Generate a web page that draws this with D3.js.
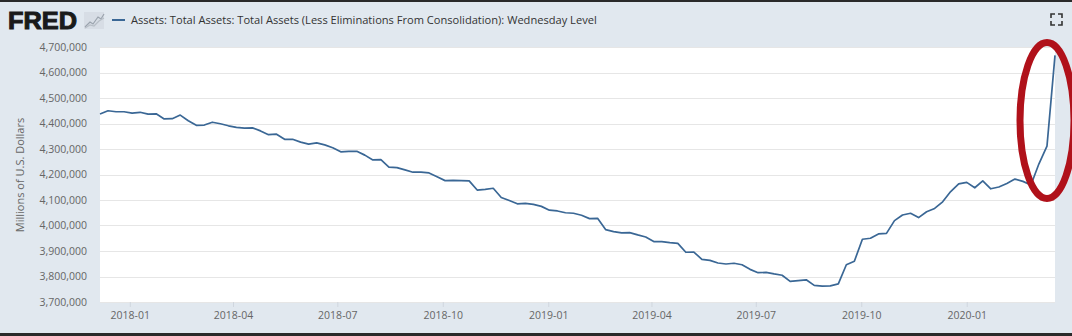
<!DOCTYPE html>
<html>
<head>
<meta charset="utf-8">
<script src="https://cdn.jsdelivr.net/npm/d3@7"></script>
<style>
  html, body { margin: 0; padding: 0; background: #e1e8ef; }
  svg { display: block; }
  text { font-family: "Open Sans", "DejaVu Sans", sans-serif; }
</style>
</head>
<body>
<svg id="chart" width="1072" height="336"></svg>
<script>
// ---- data (millions of U.S. dollars, weekly Wednesday level) ----
const startDate = "2017-12-06";
const endDate = "2020-03-18";
const seriesName = "Assets: Total Assets: Total Assets (Less Eliminations From Consolidation): Wednesday Level";
const values = [
  4437000, 4450000, 4446000, 4446000, 4441000, 4444000, 4437000, 4438000, 4418000, 4419000,
  4433000, 4411000, 4393000, 4394000, 4405000, 4399000, 4391000, 4385000, 4382000, 4383000,
  4371000, 4356000, 4358000, 4338000, 4338000, 4327000, 4319000, 4324000, 4316000, 4305000,
  4289000, 4291000, 4291000, 4276000, 4257000, 4258000, 4229000, 4227000, 4218000, 4209000,
  4209000, 4206000, 4191000, 4176000, 4177000, 4176000, 4175000, 4139000, 4142000, 4146000,
  4110000, 4098000, 4085000, 4087000, 4083000, 4075000, 4060000, 4057000, 4050000, 4048000,
  4040000, 4027000, 4028000, 3984000, 3976000, 3971000, 3972000, 3963000, 3955000, 3937000,
  3937000, 3933000, 3930000, 3895000, 3896000, 3867000, 3863000, 3853000, 3849000, 3852000,
  3846000, 3828000, 3815000, 3816000, 3810000, 3805000, 3781000, 3784000, 3787000, 3765000,
  3762000, 3763000, 3771000, 3846000, 3860000, 3946000, 3950000, 3967000, 3969000, 4019000,
  4041000, 4048000, 4031000, 4054000, 4067000, 4093000, 4133000, 4163000, 4169000, 4148000,
  4175000, 4144000, 4151000, 4165000, 4182000, 4173000, 4159000, 4242000, 4311000, 4667000
];
const yTicks = [3700000, 3800000, 3900000, 4000000, 4100000, 4200000, 4300000, 4400000, 4500000, 4600000, 4700000];
const xTickLabels = ["2018-01", "2018-04", "2018-07", "2018-10", "2019-01", "2019-04", "2019-07", "2019-10", "2020-01"];
const yTitle = "Millions of U.S. Dollars";

// ---- build ----
const parse = d3.timeParse("%Y-%m-%d");
const parseMonth = d3.timeParse("%Y-%m");
const t0 = parse(startDate);
const dates = values.map((v, i) => d3.timeDay.offset(t0, i * 7));
const data = values.map((v, i) => ({ date: dates[i], value: v }));

const svg = d3.select("#chart");
const plot = { left: 100, right: 1055, top: 47, bottom: 302 };

const x = d3.scaleTime().domain([t0, parse(endDate)]).range([plot.left, plot.right]);
const y = d3.scaleLinear().domain([3700000, 4700000]).range([plot.bottom, plot.top]);

// background
svg.append("rect").attr("width", 1072).attr("height", 336).attr("fill", "#e1e8ef");

// plot area
svg.append("rect")
  .attr("x", plot.left).attr("y", plot.top)
  .attr("width", plot.right - plot.left).attr("height", plot.bottom - plot.top)
  .attr("fill", "#ffffff");

// grid lines
svg.append("g").selectAll("line").data(yTicks).join("line")
  .attr("x1", plot.left).attr("x2", plot.right)
  .attr("y1", d => Math.round(y(d)) + 0.5).attr("y2", d => Math.round(y(d)) + 0.5)
  .attr("stroke", "#e6e6e6").attr("stroke-width", 1);

// y axis labels
const fmt = d3.format(",");
const yAxis = d3.axisLeft(y).tickValues(yTicks).tickFormat(fmt).tickSize(0).tickPadding(0);
const gy = svg.append("g").attr("transform", `translate(87,0)`).call(yAxis);
gy.select(".domain").remove();
gy.selectAll("text")
  .attr("fill", "#666666")
  .style("font-size", "10.5px")
  .style("font-family", "'Open Sans', sans-serif");

// x axis
const xTickDates = xTickLabels.map(s => parseMonth(s));
const xAxis = d3.axisBottom(x).tickValues(xTickDates).tickFormat(d3.timeFormat("%Y-%m")).tickSize(5).tickPadding(5);
const gx = svg.append("g").attr("transform", `translate(0,${plot.bottom})`).call(xAxis);
gx.select(".domain").remove();
gx.selectAll("line").attr("stroke", "#d0d6de");
gx.selectAll("text")
  .attr("fill", "#666666")
  .style("font-size", "10.5px")
  .style("font-family", "'Open Sans', sans-serif");

// y title
svg.append("text")
  .attr("transform", `translate(24,175) rotate(-90)`)
  .attr("text-anchor", "middle")
  .attr("fill", "#666666")
  .style("font-size", "11px")
  .text(yTitle);

// series line
const line = d3.line().x(d => x(d.date)).y(d => y(d.value));
svg.append("path").datum(data)
  .attr("d", line)
  .attr("fill", "none")
  .attr("stroke", "#3a6795")
  .attr("stroke-width", 1.7)
  .attr("stroke-linejoin", "round");

// header: FRED logo
const logo = svg.append("text")
  .attr("x", 8).attr("y", 29)
  .attr("fill", "#1a1a1a")
  .style("font-family", "'Liberation Sans', Arial, sans-serif")
  .style("font-weight", "900")
  .style("font-size", "24px")
  .attr("stroke", "#1a1a1a").attr("stroke-width", 1)
  .text("FRED");
(function () {
  const w = logo.node().getComputedTextLength();
  logo.attr("textLength", 69).attr("lengthAdjust", "spacingAndGlyphs");
})();
// logo mini chart icon
const icon = svg.append("g").attr("transform", "translate(84,12)");
icon.append("rect").attr("width", 20).attr("height", 17).attr("fill", "#d7dde5");
icon.append("path").attr("d", "M1,15 L6,10 L9,12 L14,5 L17,7 L20,2")
  .attr("fill", "none").attr("stroke", "#9aa3ad").attr("stroke-width", 1.2);
icon.append("path").attr("d", "M1,16 L6,13 L10,14 L15,9 L20,6")
  .attr("fill", "none").attr("stroke", "#b7bec6").attr("stroke-width", 1.2);

// legend
svg.append("line").attr("x1", 112).attr("x2", 125).attr("y1", 20).attr("y2", 20)
  .attr("stroke", "#3a6795").attr("stroke-width", 2);
const leg = svg.append("text")
  .attr("x", 131).attr("y", 24)
  .attr("fill", "#333333")
  .style("font-size", "12px")
  .text(seriesName);
// fit legend width to reference
(function () {
  const w = leg.node().getComputedTextLength();
  const target = 466;
  leg.style("font-size", (12 * target / w).toFixed(2) + "px");
})();

// expand icon
svg.append("path")
  .attr("d", "M1051,18 V14 H1055 M1058,14 H1062 V18 M1062,21 V25 H1058 M1055,25 H1051 V21")
  .attr("fill", "none").attr("stroke", "#333").attr("stroke-width", 1.6);

// red annotation ellipse
svg.append("ellipse")
  .attr("cx", 1047).attr("cy", 120.5)
  .attr("rx", 27).attr("ry", 78)
  .attr("fill", "none")
  .attr("stroke", "#b0111a")
  .attr("stroke-width", 7);

// dark frame
svg.append("rect").attr("x", 0).attr("y", 0).attr("width", 1072).attr("height", 2).attr("fill", "#2a2a2a");
svg.append("rect").attr("x", 0).attr("y", 333).attr("width", 1072).attr("height", 3).attr("fill", "#2a2a2a");
</script>
</body>
</html>
